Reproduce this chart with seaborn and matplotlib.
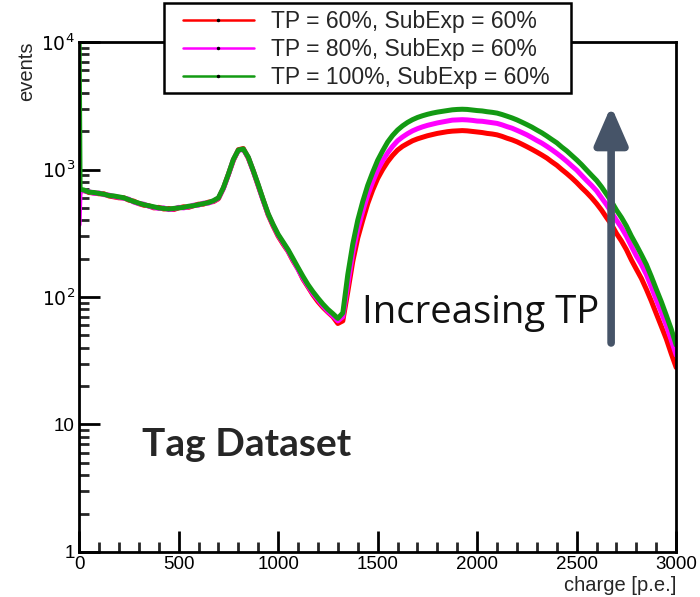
import numpy as np
import pandas as pd
import matplotlib
matplotlib.use("Agg")
import matplotlib.pyplot as plt
from matplotlib.lines import Line2D
from matplotlib.patches import Rectangle
from matplotlib.ticker import FixedLocator, NullFormatter, LogLocator
import seaborn as sns

charge = [0, 5, 25, 50, 75, 100, 125, 150, 175, 200, 225, 250, 275, 300, 325, 350, 375, 400,
          425, 450, 475, 500, 525, 550, 575, 600, 625, 650, 675, 700, 725, 750, 775, 800,
          825, 850, 875, 900, 925, 950, 975, 1000, 1025, 1050, 1075, 1100, 1125, 1150, 1175,
          1200, 1225, 1250, 1275, 1300, 1325, 1350, 1375, 1400, 1425, 1450, 1475, 1500, 1525,
          1550, 1575, 1600, 1625, 1650, 1675, 1700, 1725, 1750, 1775, 1800, 1825, 1850, 1875,
          1900, 1925, 1950, 1975, 2000, 2025, 2050, 2075, 2100, 2125, 2150, 2175, 2200, 2225,
          2250, 2275, 2300, 2325, 2350, 2375, 2400, 2425, 2450, 2475, 2500, 2525, 2550, 2575,
          2600, 2625, 2650, 2675, 2700, 2725, 2750, 2775, 2800, 2825, 2850, 2875, 2900, 2925,
          2950, 2975, 3000]

tp100 = [12000, 700, 690, 665, 660, 650, 640, 625, 620, 610, 600, 580, 560, 545, 530, 520, 510, 500,
         495, 490, 495, 500, 505, 515, 520, 530, 540, 550, 570, 600, 720, 920, 1200, 1420,
         1450, 1250, 980, 760, 580, 450, 370, 310, 270, 235, 200, 170, 145, 125, 110,
         98, 88, 80, 74, 68, 75, 150, 260, 400, 560, 750, 950, 1180, 1400,
         1640, 1850, 2040, 2200, 2340, 2460, 2560, 2640, 2710, 2770, 2820, 2860, 2900, 2940,
         2960, 2970, 2960, 2930, 2900, 2880, 2840, 2810, 2770, 2700, 2620, 2540, 2450, 2350,
         2250, 2150, 2040, 1940, 1830, 1720, 1620, 1500, 1400, 1290, 1190, 1090, 990, 900,
         820, 730, 640, 560, 480, 420, 360, 300, 255, 215, 180, 145, 115, 92,
         72, 56, 42]

tp80 = [370, 690, 680, 670, 650, 655, 635, 630, 615, 605, 595, 585, 555, 540, 535, 515, 505, 495,
        500, 485, 490, 505, 500, 510, 525, 525, 545, 545, 565, 595, 710, 910, 1190, 1410,
        1440, 1240, 970, 750, 570, 445, 365, 305, 265, 230, 195, 165, 140, 122, 106,
        95, 85, 77, 71, 65, 70, 125, 220, 340, 470, 630, 800, 990, 1170,
        1350, 1520, 1680, 1800, 1910, 2010, 2090, 2160, 2220, 2270, 2320, 2360, 2400, 2440,
        2450, 2460, 2450, 2430, 2400, 2390, 2360, 2330, 2300, 2240, 2170, 2110, 2030, 1950,
        1870, 1780, 1690, 1610, 1520, 1430, 1340, 1250, 1160, 1070, 990, 900, 820, 750,
        680, 600, 530, 460, 400, 350, 300, 250, 210, 180, 150, 120, 95, 76,
        60, 46, 35]

tp60 = [600, 680, 685, 660, 655, 645, 645, 620, 610, 600, 600, 575, 565, 540, 525, 520, 500, 505,
        490, 495, 485, 500, 510, 505, 520, 535, 535, 555, 560, 590, 715, 915, 1180, 1430,
        1460, 1230, 975, 745, 575, 440, 360, 300, 260, 228, 192, 166, 138, 120, 104,
        92, 83, 76, 70, 62, 65, 110, 190, 290, 400, 540, 690, 850, 1000,
        1150, 1290, 1420, 1520, 1600, 1680, 1740, 1790, 1840, 1880, 1920, 1950, 1980, 2000,
        2010, 2020, 2010, 1990, 1970, 1950, 1920, 1900, 1870, 1820, 1760, 1710, 1650, 1580,
        1510, 1440, 1370, 1300, 1230, 1150, 1080, 1000, 930, 860, 790, 720, 660, 600,
        540, 480, 420, 370, 315, 275, 235, 195, 165, 140, 115, 93, 74, 59,
        47, 36, 28]

labels = ["TP = 60%, SubExp = 60%", "TP = 80%, SubExp = 60%", "TP = 100%, SubExp = 60%"]
colors = ["#ff0000", "#ff00ff", "#139a13"]

df = pd.concat([
    pd.DataFrame({"charge": charge, "events": tp60, "series": labels[0]}),
    pd.DataFrame({"charge": charge, "events": tp80, "series": labels[1]}),
    pd.DataFrame({"charge": charge, "events": tp100, "series": labels[2]}),
])

sns.set_style("white")
plt.rcParams['font.family'] = ['Liberation Sans', 'DejaVu Sans']

fig = plt.figure(figsize=(7.0, 5.97), dpi=100)
ax = fig.add_axes([0.113, 0.0754, 0.853, 0.8542])

sns.lineplot(data=df, x="charge", y="events", hue="series", palette=colors,
             hue_order=labels, linewidth=3.6, legend=False, ax=ax, sort=False)

ax.set_yscale("log")
ax.set_xlim(0, 3000)
ax.set_ylim(1, 1e4)

ax.set_xticks([0, 500, 1000, 1500, 2000, 2500, 3000])
ax.set_xticklabels(["0", "500", "1000", "1500", "2000", "2500", "3000"])
ax.xaxis.set_minor_locator(FixedLocator(list(range(0, 3001, 100))))
ax.set_yticks([1, 10, 100, 1000, 10000])
ax.set_yticklabels(["1", "10", r"$10^2$", r"$10^3$", r"$10^4$"])
ax.yaxis.set_minor_locator(LogLocator(base=10, subs=np.arange(2, 10)))
ax.yaxis.set_minor_formatter(NullFormatter())

ax.tick_params(axis="both", which="major", direction="in", length=15, width=2,
               labelsize=13.5, pad=3, colors="black")
ax.tick_params(axis="both", which="minor", direction="in", length=7, width=2)
ax.tick_params(which="both", top=False, right=False, bottom=True, left=True)
for s in ax.spines.values():
    s.set_linewidth(2)
    s.set_color("black")
ax.set_xlabel("")
ax.set_ylabel("")
fig.text(0.966, 0.003, "charge [p.e.]", ha="right", va="bottom", fontsize=14.5)
fig.text(0.024, 0.93, "events", ha="left", va="top", rotation=90, fontsize=14.5)

ax.text(0.106, 0.21, "Tag Dataset", transform=ax.transAxes, fontsize=28,
        fontweight="bold", family=["Lato", "DejaVu Sans"], ha="left", va="center")
ax.text(0.474, 0.469, "Increasing TP", transform=ax.transAxes, fontsize=27.5,
        family=["Open Sans", "DejaVu Sans"], ha="left", va="center", color="#111111")
ax.annotate("", xy=(2673, 3150), xytext=(2673, 43.6),
            arrowprops=dict(arrowstyle="-|>,head_length=2.3,head_width=1.0",
                            color="#465468", lw=5.5, shrinkA=0, shrinkB=0))

handles = [Line2D([], [], color=c, lw=1.8, marker=".", markersize=3,
                  markerfacecolor="black", markeredgecolor="black") for c in colors]
leg = fig.legend(handles, labels, loc="upper left",
                 bbox_to_anchor=(0.2514, 0.995),
                 borderaxespad=0, fontsize=16.5, handlelength=3.1, handletextpad=0.75,
                 labelspacing=0.22, fancybox=False, framealpha=0,
                 numpoints=1, borderpad=0.3)
leg.get_frame().set_visible(False)
fig.patches.append(Rectangle((164 / 700, 1 - 93 / 597), 407 / 700, 90 / 597,
                             transform=fig.transFigure, facecolor="white",
                             edgecolor="black", linewidth=1.8, zorder=4))
leg.set_zorder(5)

fig.savefig("out.png", dpi=100)
